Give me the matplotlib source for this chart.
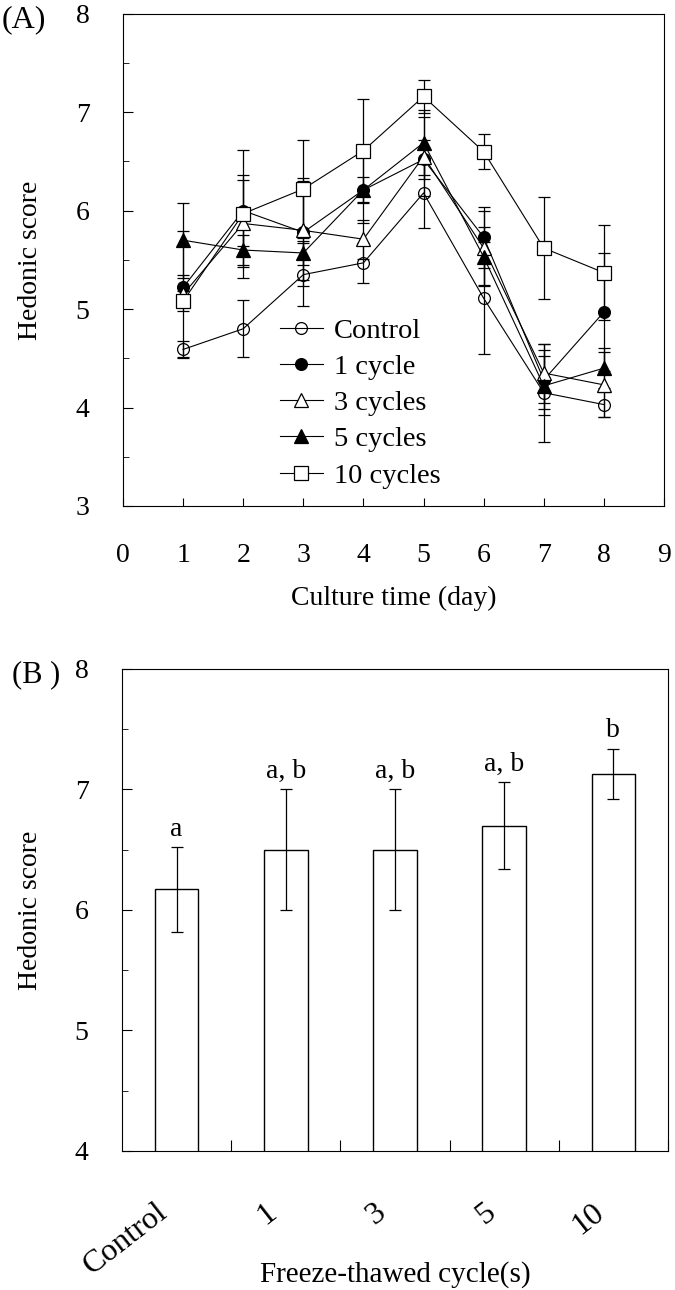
import matplotlib
matplotlib.use('Agg')
import matplotlib.pyplot as plt
import matplotlib.transforms as mtransforms
import numpy as np

plt.rcParams['font.family'] = ['Liberation Serif', 'DejaVu Serif']
plt.rcParams['font.size'] = 20

#%% Data - panel A (hedonic score vs culture time)
days = [1, 2, 3, 4, 5, 6, 7, 8]
series_names = ['Control', '1 cycle', '3 cycles', '5 cycles', '10 cycles']

control = [4.59, 4.80, 5.35, 5.47, 6.18, 5.11, 4.15, 4.03]
control_err = [0.09, 0.29, 0.32, 0.20, 0.36, 0.57, 0.50, 0.13]
cycle1 = [5.22, 6.00, 5.78, 6.21, 6.52, 5.73, 4.28, 4.97]
cycle1_err = [0.13, 0.36, 0.55, 0.34, 0.20, 0.31, 0.30, 0.60]
cycle3 = [5.15, 5.87, 5.80, 5.71, 6.55, 5.62, 4.35, 4.23]
cycle3_err = [0.64, 0.44, 0.50, 0.20, 0.40, 0.38, 0.30, 0.33]
cycle5 = [5.70, 5.60, 5.57, 6.21, 6.69, 5.53, 4.22, 4.40]
cycle5_err = [0.38, 0.15, 0.12, 0.13, 0.33, 0.30, 0.30, 0.20]
cycle10 = [5.08, 5.97, 6.22, 6.61, 7.16, 6.60, 5.62, 5.37]
cycle10_err = [0.10, 0.65, 0.50, 0.52, 0.17, 0.18, 0.52, 0.48]

#%% Data - panel B (day 5 scores)
groups = ['Control', '1', '3', '5', '10']
day5_mean = [6.17, 6.50, 6.50, 6.70, 7.13]
day5_err = [0.35, 0.50, 0.50, 0.36, 0.21]
sig_letters = ['a', 'a, b', 'a, b', 'a, b', 'b']

#%% Plot
fig = plt.figure(figsize=(6.75, 12.9), dpi=100)

axA = fig.add_axes([0.1822, 0.6078, 0.8015, 0.3815])
styles = [
    ('o', 'none', 8.5),
    ('o', 'black', 8.5),
    ('^', 'white', 10),
    ('^', 'black', 10),
    ('s', 'white', 10),
]
all_vals = [control, cycle1, cycle3, cycle5, cycle10]
all_errs = [control_err, cycle1_err, cycle3_err, cycle5_err, cycle10_err]

for vals, errs in zip(all_vals, all_errs):
    axA.errorbar(days, vals, yerr=errs, fmt='none', ecolor='black',
                 elinewidth=0.9, capsize=4, capthick=0.9, zorder=2)
for vals, name, (mk, fc, ms) in zip(all_vals, series_names, styles):
    axA.plot(days, vals, color='black', lw=0.8, marker=mk, markersize=ms,
             markerfacecolor=fc, markeredgecolor='black', markeredgewidth=0.9,
             label=name, zorder=3)

axA.set_xlim(0, 9)
axA.set_ylim(3, 8)
axA.set_xticks(range(0, 10))
axA.set_yticks(range(3, 9))
axA.set_yticks(np.arange(3.5, 8, 1), minor=True)
axA.tick_params(axis='both', which='both', direction='in', top=False, right=False)
axA.tick_params(axis='y', which='major', length=7, pad=24)
axA.tick_params(axis='y', which='minor', length=4.5)
axA.tick_params(axis='x', which='major', length=6, pad=27)
axA.set_xlabel('Culture time (day)', va='top')
axA.xaxis.set_label_coords(0.5, -0.162)
axA.set_ylabel('Hedonic score')
axA.yaxis.set_label_coords(-0.148, 0.5)
leg = axA.legend(loc='upper left', bbox_to_anchor=(0.29, 0.382), frameon=False,
                 borderpad=0, borderaxespad=0, handlelength=1.5,
                 handletextpad=0.4, labelspacing=0.36, fontsize=20.5)

axB = fig.add_axes([0.1807, 0.1078, 0.8089, 0.3736])
x = np.arange(len(groups))
axB.bar(x, day5_mean, width=0.4, color='white', edgecolor='black', linewidth=1.0, zorder=2)
axB.errorbar(x, day5_mean, yerr=day5_err, fmt='none', ecolor='black',
             elinewidth=0.9, capsize=4, capthick=0.9, zorder=3)
for xi, m, e, lab in zip(x, day5_mean, day5_err, sig_letters):
    axB.annotate(lab, (xi, m + e), xytext=(0, 8), textcoords='offset points',
                 ha='center', va='baseline', fontsize=20)

axB.set_xlim(-0.5, 4.5)
axB.set_ylim(4, 8)
axB.set_xticks(x + 0.5)
axB.set_xticks(x, minor=True)
axB.set_xticklabels([])
axB.set_xticklabels(groups, minor=True, rotation=38, ha='right', va='center',
                    rotation_mode='anchor', fontsize=23)
axB.set_yticks(range(4, 9))
axB.set_yticks(np.arange(4.5, 8, 1), minor=True)
axB.tick_params(axis='both', which='both', direction='in', top=False, right=False)
axB.tick_params(axis='y', which='major', length=7, pad=24)
axB.tick_params(axis='y', which='minor', length=4.5)
axB.tick_params(axis='x', which='major', length=8)
axB.tick_params(axis='x', which='minor', length=0, pad=42)
axB.set_xlabel('Freeze-thawed cycle(s)', va='top', fontsize=21)
axB.xaxis.set_label_coords(0.5, -0.228)
axB.set_ylabel('Hedonic score')
axB.yaxis.set_label_coords(-0.145, 0.5)

fig.text(0.003, 0.9845, '(A)', ha='left', va='center', fontsize=23)
fig.text(0.018, 0.4767, '(B )', ha='left', va='center', fontsize=22)

# nudge the rotated group labels a little to the left, like the original
fig.canvas.draw()
shift = mtransforms.ScaledTranslation(-9 / 72, 0, fig.dpi_scale_trans)
for tick in axB.xaxis.get_minor_ticks():
    tick.label1.set_transform(tick.label1.get_transform() + shift)

fig.savefig('out.png', dpi=100)
